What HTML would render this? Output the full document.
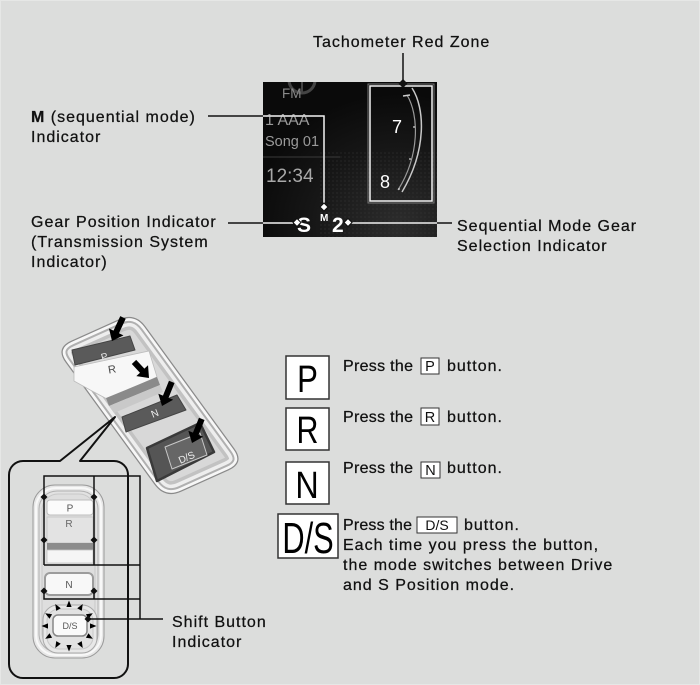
<!DOCTYPE html>
<html><head><meta charset="utf-8"><style>
html,body{margin:0;padding:0;background:#dcdddc;}
svg{display:block;}
.t{font-family:"Liberation Sans",sans-serif;font-size:16px;letter-spacing:1px;fill:#111;stroke:#111;stroke-width:0.25;}
</style></head><body>
<svg width="700" height="685" viewBox="0 0 700 685" xmlns="http://www.w3.org/2000/svg">
<defs>
<pattern id="dots" width="4" height="4" patternUnits="userSpaceOnUse"><circle cx="1" cy="1" r="0.6" fill="#3c3c3c"/></pattern>
<radialGradient id="dg" cx="0.78" cy="0.92" r="0.85"><stop offset="0" stop-color="#2c2c2c"/><stop offset="0.6" stop-color="#161616"/><stop offset="1" stop-color="#0a0a0a"/></radialGradient>
<clipPath id="disp"><rect x="263" y="82" width="174" height="155"/></clipPath>
<path id="conpath" d="M71.4,340.6 L118.6,319.4 Q135,312 145.6,326.5 L234.4,448.5 Q245,463 228.6,470.4 L181.4,491.6 Q165,499 154.4,484.5 L65.6,362.5 Q55,348 71.4,340.6 Z"/>
<clipPath id="con"><use href="#conpath"/></clipPath>
</defs>
<rect x="0.5" y="0.5" width="699" height="684" fill="#dcdddc" stroke="#e6e7e6"/>

<!-- ===== DISPLAY ===== -->
<rect x="263" y="82" width="174" height="155" fill="url(#dg)"/>
<rect x="320" y="150" width="117" height="87" fill="url(#dots)" opacity="0.7"/>
<g clip-path="url(#disp)">
<circle cx="302" cy="80" r="13" fill="none" stroke="#444" stroke-width="3"/>
<line x1="302" y1="67" x2="302" y2="93" stroke="#444" stroke-width="2"/>
</g>
<text x="282" y="98" font-family="Liberation Sans, sans-serif" font-size="13.5" fill="#8a8a8a">FM</text>
<text x="265" y="125" font-family="Liberation Sans, sans-serif" font-size="16" fill="#9a9a9a">1 AAA</text>
<text x="265" y="146" font-family="Liberation Sans, sans-serif" font-size="14.5" fill="#9a9a9a">Song 01</text>
<line x1="263" y1="157" x2="340" y2="157" stroke="#3a3a3a" stroke-width="1"/>
<text x="266" y="182" font-family="Liberation Sans, sans-serif" font-size="19" fill="#a8a8a8">12:34</text>
<text x="297" y="232" font-family="Liberation Sans, sans-serif" font-size="21" font-weight="bold" fill="#fff">S</text>
<text x="320" y="221" font-family="Liberation Sans, sans-serif" font-size="10" font-weight="bold" fill="#fff">M</text>
<text x="332" y="232" font-family="Liberation Sans, sans-serif" font-size="21" font-weight="bold" fill="#fff">2</text>

<!-- tachometer -->
<rect x="368" y="84" width="66" height="119" fill="none" stroke="#777" stroke-width="1"/>
<rect x="370" y="86" width="62" height="115" fill="none" stroke="#f2f2f2" stroke-width="1.5"/>
<path d="M412,88 C425,108 427,150 402,192" fill="none" stroke="#c8c8c8" stroke-width="1.5"/>
<path d="M407,95 C419,115 420,155 398,190" fill="none" stroke="#9a9a9a" stroke-width="1.2"/>
<path d="M403,96 L410,95" stroke="#ccc" stroke-width="1.5"/>
<circle cx="414" cy="127" r="0.9" fill="#ddd"/>
<circle cx="410" cy="159" r="0.9" fill="#ddd"/>
<circle cx="399" cy="189" r="0.9" fill="#ddd"/>
<text x="392" y="133" font-family="Liberation Sans, sans-serif" font-size="18" fill="#fff">7</text>
<text x="380" y="188" font-family="Liberation Sans, sans-serif" font-size="18" fill="#fff">8</text>

<!-- leader lines -->
<g fill="none" stroke="#111" stroke-width="1.5">
<path d="M208,116 H324 V203"/>
<path d="M228,223 H293"/>
<path d="M351,223 H452"/>
<path d="M403,53 V80"/>
</g>
<g fill="none" stroke="#f4f4f4" stroke-width="1.5" clip-path="url(#disp)">
<path d="M208,116 H324 V203"/>
<path d="M228,223 H293"/>
<path d="M351,223 H452"/>
</g>
<polygon points="403,79 407.5,83.5 403,88 398.5,83.5" fill="#111"/>
<polygon points="324,203 328,207 324,211 320,207" fill="#fff" stroke="#111" stroke-width="1"/>
<polygon points="297,218.5 301,222.5 297,226.5 293,222.5" fill="#fff" stroke="#111" stroke-width="1"/>
<polygon points="348,218.5 352,222.5 348,226.5 344,222.5" fill="#fff" stroke="#111" stroke-width="1"/>

<!-- labels top -->
<text class="t" x="313" y="47">Tachometer Red Zone</text>
<text class="t" x="31" y="122"><tspan font-weight="bold">M</tspan> (sequential mode)</text>
<text class="t" x="31" y="142">Indicator</text>
<text class="t" x="31" y="227">Gear Position Indicator</text>
<text class="t" x="31" y="247">(Transmission System</text>
<text class="t" x="31" y="267">Indicator)</text>
<text class="t" x="457" y="231">Sequential Mode Gear</text>
<text class="t" x="457" y="251">Selection Indicator</text>

<!-- ===== SLANTED CONSOLE ===== -->
<use href="#conpath" fill="#d8d8d8"/>
<g clip-path="url(#con)" fill="none">
<use href="#conpath" stroke="#c2c2c2" stroke-width="26"/>
<use href="#conpath" stroke="#eeeeee" stroke-width="19"/>
<use href="#conpath" stroke="#b0b0b0" stroke-width="12"/>
<use href="#conpath" stroke="#f7f7f7" stroke-width="8"/>
<use href="#conpath" stroke="#8a8a8a" stroke-width="2.5"/>
</g>
<!-- P button -->
<polygon points="72,350 130,336 135,350 75,365" fill="#5a5a5a" stroke="#444" stroke-width="1" stroke-linejoin="round"/>
<text x="101" y="361" font-family="Liberation Sans, sans-serif" font-size="10" fill="#e8e8e8" transform="rotate(-16 101 357)">P</text>
<!-- R area -->
<polygon points="74,367 149,351 157,377 107,399 92,391 74,381" fill="#f7f7f7" stroke="#bbb" stroke-width="0.8"/>
<text x="108" y="373" font-family="Liberation Sans, sans-serif" font-size="11" fill="#444" transform="rotate(-10 112 369)">R</text>
<polygon points="106,398 157,377 160,385 109,406" fill="#8a8a8a"/>
<polygon points="109,406 160,385 163,392 114,413" fill="#c9c9c9"/>
<!-- N button -->
<polygon points="122,417 177,395 186,410 126,432" fill="#5a5a5a" stroke="#444" stroke-width="1" stroke-linejoin="round"/>
<text x="151" y="417" font-family="Liberation Sans, sans-serif" font-size="10" fill="#eee" transform="rotate(-22 154 413)">N</text>
<!-- D/S button -->
<polygon points="147,448 200,423 214,452 157,481" fill="#555" stroke="#3a3a3a" stroke-width="2.5" stroke-linejoin="round"/>
<polygon points="165,447 200,433 207,455 172,469" fill="#666" stroke="#c8c8c8" stroke-width="1" stroke-linejoin="round"/>
<text x="178" y="461" font-family="Liberation Sans, sans-serif" font-size="10" fill="#f0f0f0" transform="rotate(-24 186 457)">D/S</text>
<!-- arrows -->
<g fill="#000">
<path d="M-3,-26 H3 V-10 H8 L0,0 L-8,-10 H-3 Z" transform="translate(112,341) rotate(25)"/>
<path d="M-3,-22 H3 V-10 H8 L0,0 L-8,-10 H-3 Z" transform="translate(149,378) rotate(-43)"/>
<path d="M-3,-26 H3 V-10 H8 L0,0 L-8,-10 H-3 Z" transform="translate(162,406) rotate(22)"/>
<path d="M-3,-26 H3 V-10 H8 L0,0 L-8,-10 H-3 Z" transform="translate(192,443) rotate(22)"/>
</g>

<!-- ===== CALLOUT ===== -->
<path d="M23,461 H60 L115,417 L80,461 H114 A14,14 0 0 1 128,475 V664 A14,14 0 0 1 114,678 H23 A14,14 0 0 1 9,664 V475 A14,14 0 0 1 23,461 Z" fill="#dcdddc" stroke="#111" stroke-width="2" stroke-linejoin="round"/>

<!-- front view shifter -->
<rect x="33" y="485" width="71" height="173" rx="22" fill="#e6e6e6" stroke="#9a9a9a" stroke-width="1"/>
<rect x="36" y="488" width="65" height="167" rx="20" fill="none" stroke="#f8f8f8" stroke-width="2"/>
<rect x="39" y="491" width="59" height="161" rx="18" fill="#e2e2e2" stroke="#b0b0b0" stroke-width="1"/>
<rect x="42" y="494" width="53" height="155" rx="16" fill="#dedede" stroke="#c8c8c8" stroke-width="1"/>
<rect x="47" y="500" width="46" height="15" rx="3" fill="#fbfbfb" stroke="#bdbdbd" stroke-width="1"/>
<text x="70" y="511.5" text-anchor="middle" font-family="Liberation Sans, sans-serif" font-size="10" fill="#555">P</text>
<rect x="47" y="517" width="46" height="26" fill="#e3e3e3" stroke="#c4c4c4" stroke-width="0.8"/>
<text x="69" y="527" text-anchor="middle" font-family="Liberation Sans, sans-serif" font-size="10" fill="#666">R</text>
<rect x="47" y="543" width="46" height="7" fill="#8c8c8c"/>
<rect x="47" y="550" width="46" height="13" fill="#f5f5f5" stroke="#c4c4c4" stroke-width="0.8"/>
<rect x="45" y="573" width="48" height="22" rx="5" fill="#f8f8f8" stroke="#9c9c9c" stroke-width="2"/>
<text x="69" y="588" text-anchor="middle" font-family="Liberation Sans, sans-serif" font-size="10" fill="#555">N</text>
<rect x="43" y="605" width="54" height="48" rx="15" fill="#e8e8e8" stroke="#a8a8a8" stroke-width="1"/>
<rect x="47" y="609" width="46" height="40" rx="12" fill="#e2e2e2" stroke="#c8c8c8" stroke-width="1"/>
<rect x="53" y="615" width="34" height="21" rx="5" fill="#fafafa" stroke="#888" stroke-width="1.5"/>
<text x="70" y="629" text-anchor="middle" font-family="Liberation Sans, sans-serif" font-size="9" fill="#555">D/S</text>
<g fill="#000">
<polygon points="-3,-2.6 3.5,0 -3,2.6" transform="translate(93,626) rotate(0)"/>
<polygon points="-3,-2.6 3.5,0 -3,2.6" transform="translate(89.8,637) rotate(30)"/>
<polygon points="-3,-2.6 3.5,0 -3,2.6" transform="translate(81,645) rotate(60)"/>
<polygon points="-3,-2.6 3.5,0 -3,2.6" transform="translate(69,648) rotate(90)"/>
<polygon points="-3,-2.6 3.5,0 -3,2.6" transform="translate(57,645) rotate(120)"/>
<polygon points="-3,-2.6 3.5,0 -3,2.6" transform="translate(48.2,637) rotate(150)"/>
<polygon points="-3,-2.6 3.5,0 -3,2.6" transform="translate(45,626) rotate(180)"/>
<polygon points="-3,-2.6 3.5,0 -3,2.6" transform="translate(48.2,615) rotate(210)"/>
<polygon points="-3,-2.6 3.5,0 -3,2.6" transform="translate(57,607) rotate(240)"/>
<polygon points="-3,-2.6 3.5,0 -3,2.6" transform="translate(69,604) rotate(270)"/>
<polygon points="-3,-2.6 3.5,0 -3,2.6" transform="translate(81,607) rotate(300)"/>
<polygon points="-3,-2.6 3.5,0 -3,2.6" transform="translate(89.8,615) rotate(330)"/>
</g>

<!-- indicator bracket lines -->
<g fill="none" stroke="#111" stroke-width="1.5">
<path d="M44,565 V476 H140 V619"/>
<path d="M94,476 V565"/>
<path d="M44,565 H140"/>
<path d="M44,591 V599 H140"/>
<path d="M94,591 V599"/>
<path d="M88,619 H163"/>
</g>
<g fill="#111">
<polygon points="44,493.5 47.5,497 44,500.5 40.5,497"/>
<polygon points="94,493.5 97.5,497 94,500.5 90.5,497"/>
<polygon points="44,536.5 47.5,540 44,543.5 40.5,540"/>
<polygon points="94,536.5 97.5,540 94,543.5 90.5,540"/>
<polygon points="44,587.5 47.5,591 44,594.5 40.5,591"/>
<polygon points="94,587.5 97.5,591 94,594.5 90.5,591"/>
<polygon points="88,615.5 91.5,619 88,622.5 84.5,619"/>
</g>
<text class="t" x="172" y="627">Shift Button</text>
<text class="t" x="172" y="647">Indicator</text>

<!-- ===== RIGHT INSTRUCTIONS ===== -->
<g font-family="Liberation Sans, sans-serif" fill="#000">
<rect x="286" y="356" width="43" height="43" fill="#fff" stroke="#333" stroke-width="1.5"/>
<text transform="translate(307.5,392) scale(0.82,1)" text-anchor="middle" font-size="38">P</text>
<rect x="286" y="408" width="43" height="42" fill="#fff" stroke="#333" stroke-width="1.5"/>
<text transform="translate(307.5,443) scale(0.8,1)" text-anchor="middle" font-size="38">R</text>
<rect x="286" y="462" width="43" height="42" fill="#fff" stroke="#333" stroke-width="1.5"/>
<text transform="translate(307,498) scale(0.85,1)" text-anchor="middle" font-size="38">N</text>
<rect x="278" y="514" width="60" height="44" fill="#fff" stroke="#333" stroke-width="1.5"/>
<text transform="translate(308,553) scale(0.7,1)" text-anchor="middle" font-size="44">D/S</text>
</g>

<text class="t" x="343" y="371" textLength="71" lengthAdjust="spacing">Press the</text>
<rect x="421" y="358" width="18" height="16" fill="#fff" stroke="#333" stroke-width="1"/>
<text x="430" y="371" text-anchor="middle" font-family="Liberation Sans, sans-serif" font-size="14.5" fill="#111">P</text>
<text class="t" x="447" y="371">button.</text>

<text class="t" x="343" y="422" textLength="71" lengthAdjust="spacing">Press the</text>
<rect x="421" y="408" width="18" height="17" fill="#fff" stroke="#333" stroke-width="1"/>
<text x="430" y="422" text-anchor="middle" font-family="Liberation Sans, sans-serif" font-size="14.5" fill="#111">R</text>
<text class="t" x="447" y="422">button.</text>

<text class="t" x="343" y="473" textLength="71" lengthAdjust="spacing">Press the</text>
<rect x="421" y="462" width="19" height="16" fill="#fff" stroke="#333" stroke-width="1"/>
<text x="430.5" y="475" text-anchor="middle" font-family="Liberation Sans, sans-serif" font-size="14.5" fill="#111">N</text>
<text class="t" x="447" y="473">button.</text>

<text class="t" x="343" y="530" textLength="70" lengthAdjust="spacing">Press the</text>
<rect x="417" y="517" width="40" height="16" fill="#fff" stroke="#333" stroke-width="1"/>
<text x="437" y="530" text-anchor="middle" font-family="Liberation Sans, sans-serif" font-size="14" fill="#111">D/S</text>
<text class="t" x="464" y="530">button.</text>
<text class="t" x="343" y="550">Each time you press the button,</text>
<text class="t" x="343" y="570">the mode switches between Drive</text>
<text class="t" x="343" y="590">and S Position mode.</text>
</svg>
</body></html>
